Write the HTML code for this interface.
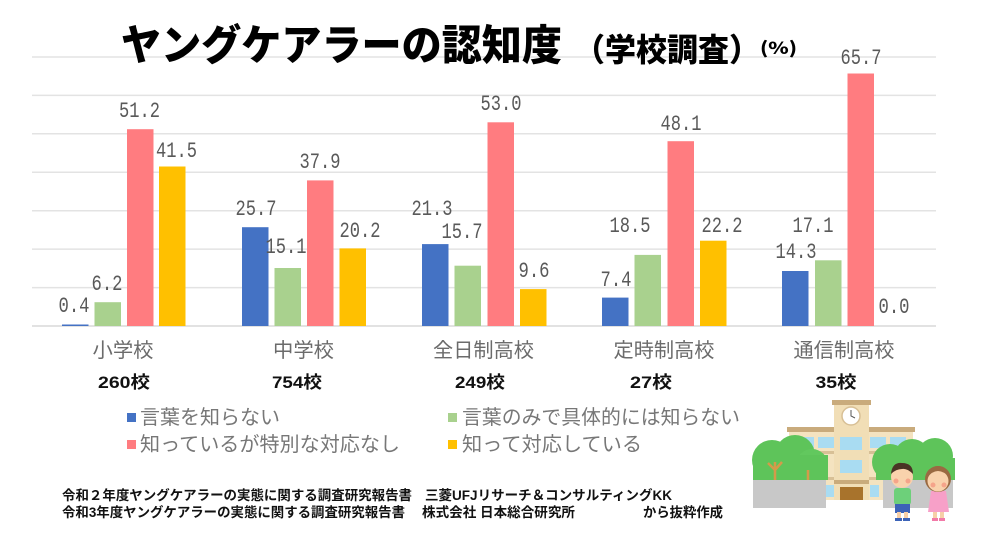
<!DOCTYPE html>
<html><head><meta charset="utf-8"><style>
html,body{margin:0;padding:0;background:#fff;}
svg{display:block;}
.v{font-family:"Liberation Mono",monospace;font-size:22px;fill:#595959;}
.cat{font-family:"Liberation Sans","Noto Sans CJK JP",sans-serif;font-size:20px;fill:#6b6b6b;}
.cnt{font-family:"Liberation Sans","Noto Sans CJK JP",sans-serif;font-size:17px;font-weight:bold;fill:#111;}
.lg{font-family:"Liberation Sans","Noto Sans CJK JP",sans-serif;font-size:20px;fill:#777;}
.fn{font-family:"Liberation Sans","Noto Sans CJK JP",sans-serif;font-size:13.5px;font-weight:bold;fill:#111;}
.tt{font-family:"Noto Sans CJK JP",sans-serif;font-weight:900;fill:#000;}
</style></head><body>
<svg width="1000" height="545" viewBox="0 0 1000 545" xmlns="http://www.w3.org/2000/svg">
<rect width="1000" height="545" fill="#fff"/>
<!-- gridlines -->
<g stroke="#e3e3e3" stroke-width="1.5">
<line x1="32" y1="57" x2="936" y2="57"/>
<line x1="32" y1="95.4" x2="936" y2="95.4"/>
<line x1="32" y1="133.8" x2="936" y2="133.8"/>
<line x1="32" y1="172.3" x2="936" y2="172.3"/>
<line x1="32" y1="210.7" x2="936" y2="210.7"/>
<line x1="32" y1="249.1" x2="936" y2="249.1"/>
<line x1="32" y1="287.6" x2="936" y2="287.6"/>
<line x1="32" y1="326" x2="936" y2="326" stroke="#d9d9d9"/>
</g>
<!-- title -->
<text class="tt" x="121" y="60" font-size="42" textLength="441" lengthAdjust="spacingAndGlyphs">ヤングケアラーの認知度</text>
<text class="tt" x="574" y="61" font-size="32" textLength="186" lengthAdjust="spacingAndGlyphs">（学校調査）</text>
<text class="tt" x="760" y="54" font-size="17" font-weight="bold" textLength="37" lengthAdjust="spacingAndGlyphs">(%)</text>
<!-- bars -->
<g>
<rect x="62" y="324.5" width="26.5" height="1.5" fill="#4472c4"/>
<rect x="94.5" y="302.2" width="26.5" height="23.8" fill="#a9d18e"/>
<rect x="127" y="129.2" width="26.5" height="196.8" fill="#ff7c80"/>
<rect x="159" y="166.5" width="26.5" height="159.5" fill="#ffc000"/>

<rect x="242" y="227.2" width="26.5" height="98.8" fill="#4472c4"/>
<rect x="274.5" y="268" width="26.5" height="58" fill="#a9d18e"/>
<rect x="307" y="180.4" width="26.5" height="145.6" fill="#ff7c80"/>
<rect x="339.5" y="248.4" width="26.5" height="77.6" fill="#ffc000"/>

<rect x="422" y="244.1" width="26.5" height="81.9" fill="#4472c4"/>
<rect x="454.5" y="265.7" width="26.5" height="60.3" fill="#a9d18e"/>
<rect x="487.5" y="122.3" width="26.5" height="203.7" fill="#ff7c80"/>
<rect x="520" y="289.1" width="26.5" height="36.9" fill="#ffc000"/>

<rect x="602" y="297.6" width="26.5" height="28.4" fill="#4472c4"/>
<rect x="634.5" y="254.9" width="26.5" height="71.1" fill="#a9d18e"/>
<rect x="667.5" y="141.2" width="26.5" height="184.8" fill="#ff7c80"/>
<rect x="700" y="240.7" width="26.5" height="85.3" fill="#ffc000"/>

<rect x="782" y="271" width="26.5" height="55" fill="#4472c4"/>
<rect x="815" y="260.3" width="26.5" height="65.7" fill="#a9d18e"/>
<rect x="847.5" y="73.5" width="26.5" height="252.5" fill="#ff7c80"/>
</g>
<!-- value labels -->
<g class="v" text-anchor="middle">
<text x="74" y="312" textLength="31" lengthAdjust="spacingAndGlyphs">0.4</text>
<text x="107" y="290" textLength="31" lengthAdjust="spacingAndGlyphs">6.2</text>
<text x="139.5" y="117" textLength="41" lengthAdjust="spacingAndGlyphs">51.2</text>
<text x="176.5" y="157" textLength="41" lengthAdjust="spacingAndGlyphs">41.5</text>
<text x="256" y="215" textLength="41" lengthAdjust="spacingAndGlyphs">25.7</text>
<text x="286" y="253" textLength="41" lengthAdjust="spacingAndGlyphs">15.1</text>
<text x="320" y="168" textLength="41" lengthAdjust="spacingAndGlyphs">37.9</text>
<text x="360" y="237" textLength="41" lengthAdjust="spacingAndGlyphs">20.2</text>
<text x="432" y="215" textLength="41" lengthAdjust="spacingAndGlyphs">21.3</text>
<text x="462" y="238" textLength="41" lengthAdjust="spacingAndGlyphs">15.7</text>
<text x="501" y="110" textLength="41" lengthAdjust="spacingAndGlyphs">53.0</text>
<text x="534" y="277" textLength="31" lengthAdjust="spacingAndGlyphs">9.6</text>
<text x="616" y="286" textLength="31" lengthAdjust="spacingAndGlyphs">7.4</text>
<text x="630" y="232" textLength="41" lengthAdjust="spacingAndGlyphs">18.5</text>
<text x="681" y="130" textLength="41" lengthAdjust="spacingAndGlyphs">48.1</text>
<text x="722" y="232" textLength="41" lengthAdjust="spacingAndGlyphs">22.2</text>
<text x="796" y="258" textLength="41" lengthAdjust="spacingAndGlyphs">14.3</text>
<text x="813" y="232" textLength="41" lengthAdjust="spacingAndGlyphs">17.1</text>
<text x="861" y="64" textLength="41" lengthAdjust="spacingAndGlyphs">65.7</text>
<text x="894" y="313" textLength="31" lengthAdjust="spacingAndGlyphs">0.0</text>
</g>
<!-- category labels -->
<g class="cat" text-anchor="middle">
<text x="123" y="357" textLength="61" lengthAdjust="spacingAndGlyphs">小学校</text>
<text x="303.5" y="357" textLength="61" lengthAdjust="spacingAndGlyphs">中学校</text>
<text x="483.5" y="357" textLength="101" lengthAdjust="spacingAndGlyphs">全日制高校</text>
<text x="664" y="357" textLength="101" lengthAdjust="spacingAndGlyphs">定時制高校</text>
<text x="844" y="357" textLength="101" lengthAdjust="spacingAndGlyphs">通信制高校</text>
</g>
<g class="cnt" text-anchor="middle">
<text x="124" y="388" textLength="52" lengthAdjust="spacingAndGlyphs">260校</text>
<text x="297" y="388" textLength="50" lengthAdjust="spacingAndGlyphs">754校</text>
<text x="480" y="388" textLength="50" lengthAdjust="spacingAndGlyphs">249校</text>
<text x="651" y="388" textLength="42" lengthAdjust="spacingAndGlyphs">27校</text>
<text x="836" y="388" textLength="41" lengthAdjust="spacingAndGlyphs">35校</text>
</g>
<!-- legend -->
<rect x="127" y="413" width="9" height="9" fill="#4472c4"/>
<text class="lg" x="140" y="424" textLength="140" lengthAdjust="spacingAndGlyphs">言葉を知らない</text>
<rect x="448" y="413" width="9" height="9" fill="#a9d18e"/>
<text class="lg" x="462" y="424" textLength="278" lengthAdjust="spacingAndGlyphs">言葉のみで具体的には知らない</text>
<rect x="127" y="440" width="9" height="9" fill="#ff7c80"/>
<text class="lg" x="140" y="451" textLength="260" lengthAdjust="spacingAndGlyphs">知っているが特別な対応なし</text>
<rect x="448" y="440" width="9" height="9" fill="#ffc000"/>
<text class="lg" x="462" y="451" textLength="180" lengthAdjust="spacingAndGlyphs">知って対応している</text>
<!-- footnotes -->
<text class="fn" x="62" y="500" textLength="350" lengthAdjust="spacingAndGlyphs">令和２年度ヤングケアラーの実態に関する調査研究報告書</text>
<text class="fn" x="425" y="500" textLength="247" lengthAdjust="spacingAndGlyphs">三菱UFJリサーチ＆コンサルティングKK</text>
<text class="fn" x="62" y="517" textLength="343" lengthAdjust="spacingAndGlyphs">令和3年度ヤングケアラーの実態に関する調査研究報告書</text>
<text class="fn" x="422" y="517" textLength="153" lengthAdjust="spacingAndGlyphs">株式会社 日本総合研究所</text>
<text class="fn" x="643" y="517" textLength="80" lengthAdjust="spacingAndGlyphs">から抜粋作成</text>
<!-- illustration -->
<g>
<rect x="789" y="430" width="124" height="70" fill="#f4e3c0"/>
<rect x="787" y="427" width="128" height="5" fill="#c9ab7c"/>
<rect x="789" y="451" width="124" height="3" fill="#d8c096"/>
<rect x="789" y="477" width="124" height="3" fill="#d8c096"/>
<rect x="798" y="437" width="16" height="11" fill="#a9dcf2"/>
<rect x="818" y="437" width="16" height="11" fill="#a9dcf2"/>
<rect x="870" y="437" width="16" height="11" fill="#a9dcf2"/>
<rect x="890" y="437" width="16" height="11" fill="#a9dcf2"/>
<rect x="826" y="485" width="9" height="12" fill="#a9dcf2"/>
<rect x="870" y="485" width="9" height="12" fill="#a9dcf2"/>
<rect x="834" y="403" width="35" height="97" fill="#f1deb6"/>
<rect x="832" y="400" width="39" height="5" fill="#c9ab7c"/>
<circle cx="851" cy="416" r="9" fill="#fff" stroke="#d8c096" stroke-width="1.5"/>
<path d="M851 410 L851 416 L855 418" stroke="#555" stroke-width="1" fill="none"/>
<rect x="840" y="437" width="22" height="13" fill="#a9dcf2"/>
<rect x="840" y="460" width="22" height="13" fill="#a9dcf2"/>
<rect x="834" y="480" width="35" height="4" fill="#c9ab7c"/>
<rect x="840" y="487" width="23" height="13" fill="#a8732c"/>
<circle cx="772" cy="460" r="20" fill="#5ec45a"/>
<circle cx="795" cy="455" r="20" fill="#5ec45a"/>
<circle cx="812" cy="465" r="16" fill="#62c85e"/>
<rect x="753" y="455" width="75" height="25" fill="#5ec45a"/>
<path d="M775 480 L775 462 M775 470 L768 463 M775 470 L782 462" stroke="#d49a4a" stroke-width="2.5" fill="none"/>
<path d="M808 480 L808 470" stroke="#d49a4a" stroke-width="2.5"/>
<rect x="753" y="480" width="73" height="28" fill="#c8c8c8"/>
<circle cx="890" cy="462" r="18" fill="#5ec45a"/>
<circle cx="912" cy="457" r="18" fill="#5ec45a"/>
<circle cx="935" cy="456" r="18" fill="#5ec45a"/>
<rect x="876" y="458" width="79" height="22" fill="#5ec45a"/>
<rect x="883" y="480" width="70" height="28" fill="#c8c8c8"/>
<rect x="894" y="488" width="17" height="17" rx="3" fill="#6dd07a"/>
<rect x="895" y="504" width="15" height="9" fill="#3c63b8"/>
<rect x="897" y="512" width="4" height="7" fill="#f7cfa8"/>
<rect x="904" y="512" width="4" height="7" fill="#f7cfa8"/>
<rect x="895" y="518" width="7" height="3" fill="#3c63b8"/>
<rect x="903" y="518" width="7" height="3" fill="#3c63b8"/>
<circle cx="902" cy="477" r="11" fill="#f9d2ac"/>
<path d="M891 474 Q892 462 902 463 Q913 463 913 474 Q907 468 902 469 Q896 469 891 474 Z" fill="#4a3425"/>
<circle cx="896" cy="481" r="2.5" fill="#f5a48a"/>
<circle cx="908" cy="481" r="2.5" fill="#f5a48a"/>
<path d="M931 491 L946 491 L949 512 L928 512 Z" fill="#f7a0c8"/>
<rect x="933" y="512" width="4" height="7" fill="#f7cfa8"/>
<rect x="940" y="512" width="4" height="7" fill="#f7cfa8"/>
<rect x="932" y="518" width="6" height="3" fill="#f27aa8"/>
<rect x="939" y="518" width="6" height="3" fill="#f27aa8"/>
<circle cx="938" cy="479" r="13" fill="#9a6a42"/>
<circle cx="938" cy="481" r="10.5" fill="#f9d2ac"/>
<path d="M927 478 Q929 466 938 466 Q948 466 950 478 Q944 471 938 471 Q932 471 927 478 Z" fill="#9a6a42"/>
<circle cx="933" cy="485" r="2.5" fill="#f5a48a"/>
<circle cx="944" cy="485" r="2.5" fill="#f5a48a"/>
</g>
</svg>
</body></html>
